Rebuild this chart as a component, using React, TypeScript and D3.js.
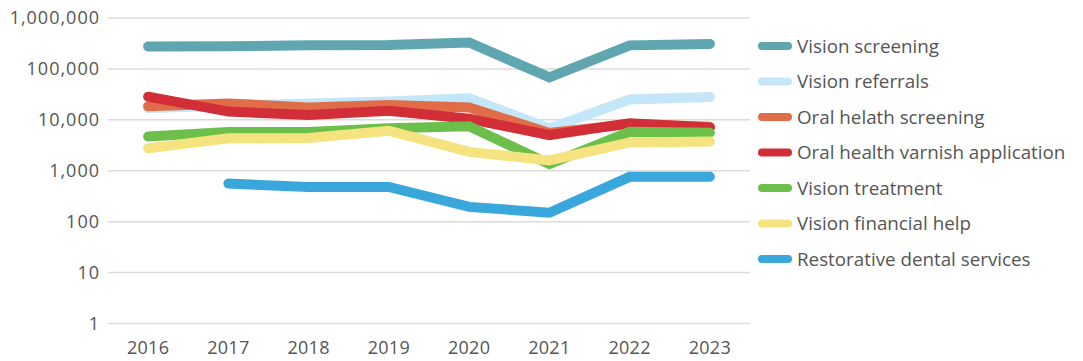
import React from "react";
import * as d3 from "d3";

const years = ["2016", "2017", "2018", "2019", "2020", "2021", "2022", "2023"];
const seriesNames = [
  "Vision screening",
  "Vision referrals",
  "Oral helath screening",
  "Oral health varnish application",
  "Vision treatment",
  "Vision financial help",
  "Restorative dental services",
];
const seriesColors = ["#5fa6b0", "#c3e6f8", "#e06c48", "#d22e38", "#6dbf4b", "#f5e37f", "#39a6dc"];

const visionScreening = [275000, 280000, 290000, 295000, 330000, 68000, 290000, 310000];
const visionReferrals = [17000, 19000, 21000, 23000, 26500, 6800, 25000, 28000];
const oralScreening = [18500, 21000, 17500, 19500, 17500, 5500, 8300, 7300];
const oralVarnish = [28500, 14500, 12400, 15000, 10500, 5000, 8600, 7100];
const visionTreatment = [4700, 5800, 5800, 6800, 7500, 1350, 5800, 5600];
const visionFinancial = [2750, 4350, 4400, 6100, 2350, 1600, 3600, 3750];
const restorativeDental: (number | null)[] = [null, 560, 480, 480, 195, 150, 760, 760];

const seriesValues: (number | null)[][] = [
  visionScreening,
  visionReferrals,
  oralScreening,
  oralVarnish,
  visionTreatment,
  visionFinancial,
  restorativeDental,
];
const yTicks = [1, 10, 100, 1000, 10000, 100000, 1000000];

export default function App() {
  const W = 1083, H = 361;
  const left = 108, right = 750, top = 18, bottom = 323.5;
  const x = d3.scaleBand<string>().domain(years).range([left, right]);
  const y = d3.scaleLog().domain([1, 1000000]).range([bottom, top]);
  const fmt = d3.format(",");
  const line = d3
    .line<number | null>()
    .defined((d) => d != null)
    .x((_, i) => (x(years[i]) as number) + x.bandwidth() / 2)
    .y((d) => y(d as number));
  const font = "'Open Sans', sans-serif";
  return (
    <svg width={W} height={H} style={{ position: "absolute", left: 0, top: 0 }} fontFamily={font}>
      {yTicks.map((t) => (
        <g key={t}>
          <line x1={left} x2={right} y1={y(t)} y2={y(t)} stroke="#dcdcdc" strokeWidth={1.5} />
          <text x={100} y={y(t)} dy="0.35em" textAnchor="end" fontSize={18} letterSpacing={1} fill="#555">
            {fmt(t)}
          </text>
        </g>
      ))}
      {years.map((yr) => (
        <text key={yr} x={(x(yr) as number) + x.bandwidth() / 2} y={348} dy="0.35em" textAnchor="middle" fontSize={18} letterSpacing={0.3} fill="#555">
          {yr}
        </text>
      ))}
      {seriesValues.map((vals, i) => (
        <path key={i} d={line(vals) || ""} fill="none" stroke={seriesColors[i]} strokeWidth={10} strokeLinecap="round" strokeLinejoin="miter" />
      ))}
      {seriesNames.map((n, i) => {
        const ly = 46 + i * 35.5;
        return (
          <g key={n}>
            <line x1={762} x2={788} y1={ly} y2={ly} stroke={seriesColors[i]} strokeWidth={8} strokeLinecap="round" />
            <text x={797} y={ly} dy="0.35em" fontSize={18.8} fill="#555">
              {n}
            </text>
          </g>
        );
      })}
    </svg>
  );
}
